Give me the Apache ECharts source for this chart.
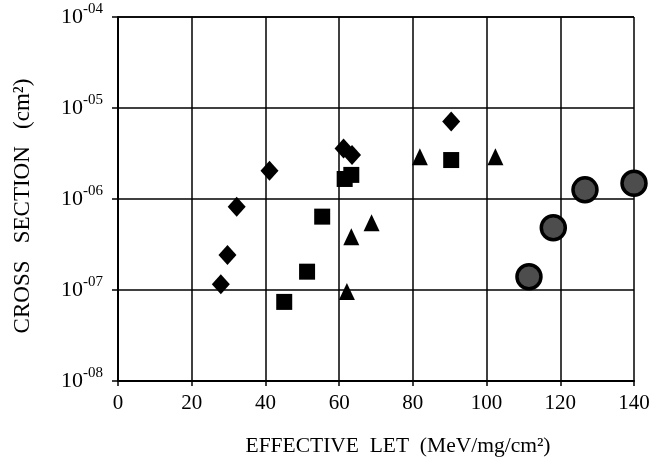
<!DOCTYPE html>
<html>
<head>
<meta charset="utf-8">
<script src="https://cdn.jsdelivr.net/npm/echarts@6/dist/echarts.min.js"></script>
<style>
  html, body { margin: 0; padding: 0; background: #fff; }
  #chart { width: 660px; height: 467px; }
</style>
</head>
<body>
<div id="chart"></div>
<script>
// x ticks / y decades
const xTicks = [0, 20, 40, 60, 80, 100, 120, 140];
const yDecades = [1e-8, 1e-7, 1e-6, 1e-5, 1e-4];

// diamonds
const diamondLet = [27.9, 29.7, 32.2, 41.1, 61.2, 63.5, 90.4];
const diamondCs = [1.16e-7, 2.43e-7, 8.2e-7, 2.05e-6, 3.6e-6, 3.05e-6, 7.1e-6];

// squares
const squareLet = [45.1, 51.3, 55.4, 61.5, 63.3, 90.4];
const squareCs = [7.4e-8, 1.59e-7, 6.4e-7, 1.66e-6, 1.84e-6, 2.68e-6];

// triangles
const triangleLet = [62.1, 63.3, 68.8, 81.9, 102.4];
const triangleCs = [9.6e-8, 3.85e-7, 5.5e-7, 2.92e-6, 2.92e-6];

// circles
const circleLet = [111.5, 118.1, 126.7, 140];
const circleCs = [1.4e-7, 4.84e-7, 1.26e-6, 1.49e-6];

const pair = (xs, ys) => xs.map((x, i) => [x, ys[i]]);

const serif = "Liberation Serif";

const chart = echarts.init(document.getElementById("chart"));

const option = {
  backgroundColor: "#fff",
  animation: false,
  grid: {
    left: 118,
    right: 26,
    top: 17,
    bottom: 86
  },
  xAxis: {
    type: "value",
    min: xTicks[0],
    max: xTicks[xTicks.length - 1],
    interval: 20,
    name: "EFFECTIVE  LET  (MeV/mg/cm\u00b2)",
    nameLocation: "middle",
    nameGap: 54,
    nameTextStyle: {
      fontFamily: serif,
      fontSize: 21.5,
      color: "#000",
      padding: [0, 0, 0, 44]
    },
    axisLine: { lineStyle: { color: "#000", width: 2 } },
    axisTick: { show: true, inside: false, length: 5, lineStyle: { color: "#000", width: 1.5 } },
    axisLabel: {
      fontFamily: serif,
      fontSize: 21,
      color: "#000",
      margin: 12
    },
    splitLine: { show: true, lineStyle: { color: "#000", width: 1.5 } }
  },
  yAxis: {
    type: "log",
    logBase: 10,
    min: yDecades[0],
    max: yDecades[yDecades.length - 1],
    name: "CROSS   SECTION   (cm\u00b2)",
    nameLocation: "middle",
    nameGap: 84,
    nameTextStyle: {
      fontFamily: serif,
      fontSize: 23,
      color: "#000",
      padding: [0, 14, 0, 0]
    },
    axisLine: { show: true, lineStyle: { color: "#000", width: 2 } },
    axisTick: { show: true, inside: false, length: 6, lineStyle: { color: "#000", width: 1.5 } },
    axisLabel: {
      margin: 15,
      formatter: function (v) {
        const e = Math.round(Math.log10(v));
        return "{b|10}{s|-0" + Math.abs(e) + "}";
      },
      rich: {
        b: { fontFamily: serif, fontSize: 22, color: "#000" },
        s: { fontFamily: serif, fontSize: 15, color: "#000", verticalAlign: "top", padding: [0, 0, 16, 0] }
      }
    },
    splitLine: { show: true, lineStyle: { color: "#000", width: 1.5 } }
  },
  series: [
    {
      name: "diamond",
      type: "scatter",
      symbol: "diamond",
      symbolSize: [18, 20],
      itemStyle: { color: "#000", opacity: 1 },
      data: pair(diamondLet, diamondCs)
    },
    {
      name: "square",
      type: "scatter",
      symbol: "rect",
      symbolSize: 16,
      itemStyle: { color: "#000", opacity: 1 },
      data: pair(squareLet, squareCs)
    },
    {
      name: "triangle",
      type: "scatter",
      symbol: "triangle",
      symbolSize: [16, 17],
      itemStyle: { color: "#000", opacity: 1 },
      data: pair(triangleLet, triangleCs)
    },
    {
      name: "circle",
      type: "scatter",
      symbol: "circle",
      symbolSize: 24,
      itemStyle: { color: "#4d4d4d", borderColor: "#000", borderWidth: 3.5, opacity: 1 },
      data: pair(circleLet, circleCs)
    }
  ]
};

chart.setOption(option);
</script>
</body>
</html>
